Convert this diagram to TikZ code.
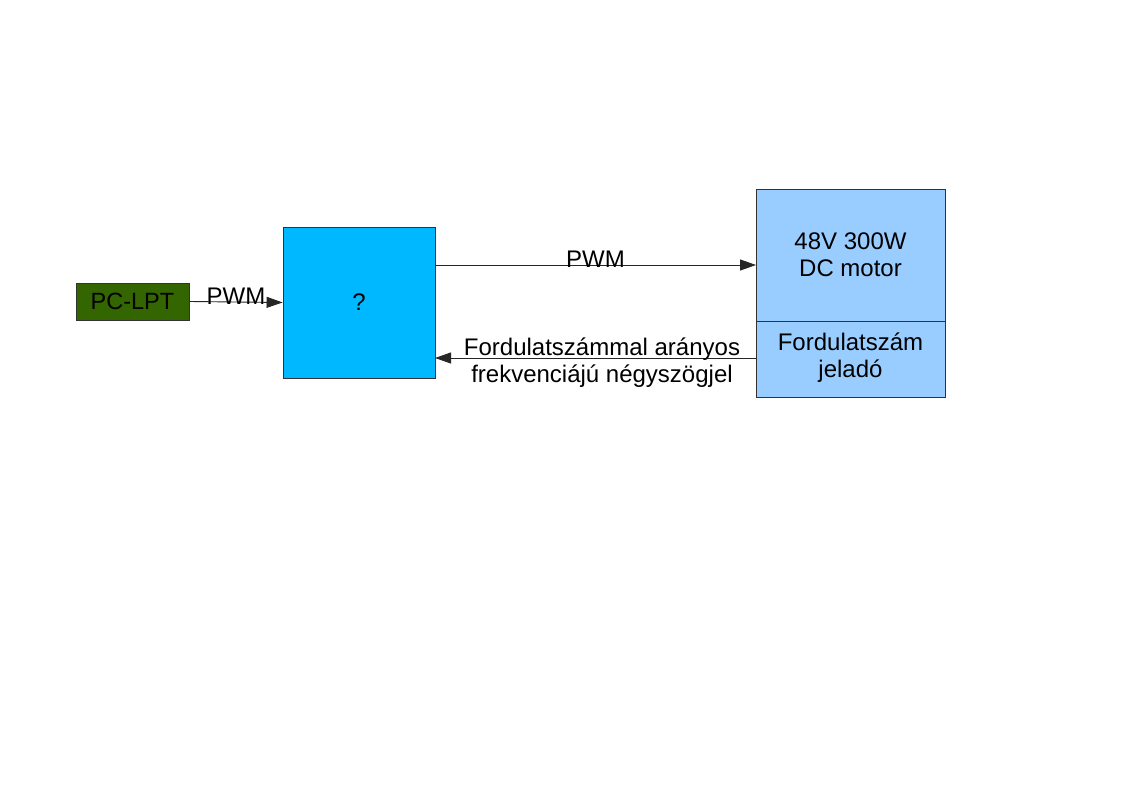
\documentclass[tikz,border=0pt]{standalone}
\usepackage{fontspec}
\setmainfont{Liberation Sans}
\usetikzlibrary{arrows.meta}
\definecolor{darkgreen}{HTML}{336600}
\definecolor{brightblue}{HTML}{00B8FF}
\definecolor{lightblue}{HTML}{99CCFF}
\begin{document}
\begin{tikzpicture}[x=1pt,y=-1pt,
  box/.style={draw=black!80,line width=0.9pt,inner sep=0pt,align=center,font=\fontsize{24}{27}\selectfont},
  conn/.style={draw=black!85,line width=0.9pt,-{Triangle[length=16pt,width=11pt]}},
  lbl/.style={inner sep=0pt,align=center,font=\fontsize{24}{27}\selectfont}]
\useasboundingbox[fill=white] (0,0) rectangle (1123,794);
\node[box,fill=darkgreen,minimum width=113pt,minimum height=37pt,font=\fontsize{23.5}{27}\selectfont] (pc) at (132.5,301.5) {PC-LPT};
\node[box,fill=brightblue,minimum width=152pt,minimum height=151pt] (q) at (359,302.5) {?};
\node[box,fill=lightblue,minimum width=189pt,minimum height=132pt] (motor) at (850.5,255) {48V 300W\\DC motor};
\node[box,fill=lightblue,minimum width=189pt,minimum height=76pt] (sensor) at (850.5,359) {\raisebox{-2.5pt}{\begin{tabular}{@{}c@{}}Fordulatszám\\jeladó\end{tabular}}};
\coordinate (qa) at (435,265);
\coordinate (ma) at (756,265);
\coordinate (sb) at (756,358);
\coordinate (qb) at (435,358);
\draw[conn] (pc.east) -- (q.west) node[lbl,midway,above=-3pt] (l1) {PWM};
\draw[conn] (qa) -- (ma) node[lbl,pos=0.5,above=-3pt] (l2) {PWM};
\draw[conn] (sb) -- (qb);
\node[lbl] (l3) at (602,362.5) {Fordulatszámmal arányos\\frekvenciájú négyszögjel};
\end{tikzpicture}
\end{document}
